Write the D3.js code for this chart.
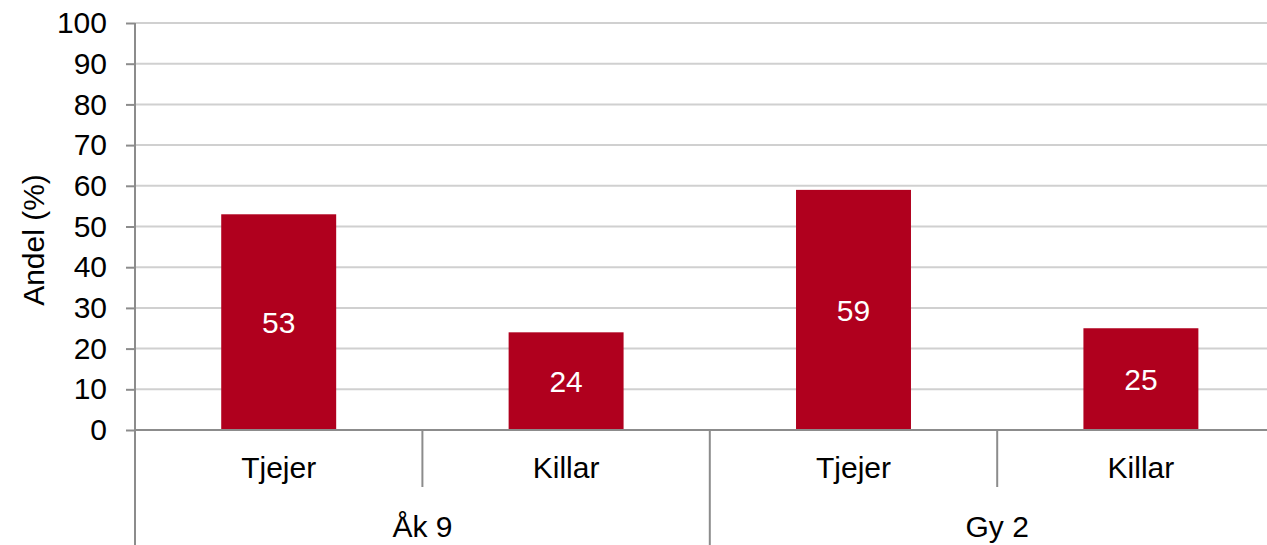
<!DOCTYPE html>
<html>
<head>
<meta charset="utf-8">
<script src="https://cdn.jsdelivr.net/npm/d3@7"></script>
<style>
  body { margin: 0; background: #fff; }
  svg { display: block; font-family: "Liberation Sans", Arial, sans-serif; }
</style>
</head>
<body>
<svg id="chart" width="1267" height="545"></svg>
<script>
const groups = ["Åk 9", "Gy 2"];
const genders = ["Tjejer", "Killar"];
const values = [53, 24, 59, 25];
const yTicks = [0, 10, 20, 30, 40, 50, 60, 70, 80, 90, 100];

const rows = values.map((v, i) => ({
  key: i,
  group: groups[Math.floor(i / 2)],
  gender: genders[i % 2],
  value: v
}));

const svg = d3.select("#chart");
const width = 1267, height = 545;
const m = { top: 23, left: 135, bottom: 115 };
const bandW = 287.4;
const y0 = height - m.bottom;
const fs = 30;

const x = d3.scaleBand()
  .domain(rows.map(d => d.key))
  .range([m.left, m.left + bandW * rows.length])
  .paddingInner(0)
  .paddingOuter(0);

const y = d3.scaleLinear().domain([0, 100]).range([y0, m.top]);

// gridlines
svg.append("g")
  .selectAll("line")
  .data(yTicks.filter(t => t > 0))
  .join("line")
  .attr("x1", m.left).attr("x2", width)
  .attr("y1", d => y(d)).attr("y2", d => y(d))
  .attr("stroke", "#d0d0d0")
  .attr("stroke-width", 2);

// bars
const barW = x.bandwidth() * 0.4;
svg.append("g")
  .selectAll("rect")
  .data(rows)
  .join("rect")
  .attr("x", d => x(d.key) + (x.bandwidth() - barW) / 2)
  .attr("y", d => y(d.value))
  .attr("width", barW)
  .attr("height", d => y0 - y(d.value))
  .attr("fill", "#b0001e");

svg.append("g")
  .selectAll("text")
  .data(rows)
  .join("text")
  .attr("x", d => x(d.key) + x.bandwidth() / 2)
  .attr("y", d => (y(d.value) + y0) / 2)
  .attr("dy", "0.36em")
  .attr("text-anchor", "middle")
  .attr("font-size", fs)
  .attr("fill", "#fff")
  .text(d => d.value);

// y axis
const yAxis = svg.append("g")
  .attr("transform", `translate(${m.left},0)`)
  .call(d3.axisLeft(y).tickValues(yTicks).tickSize(9).tickPadding(19));
yAxis.select(".domain").attr("stroke", "#8c8c8c").attr("stroke-width", 2)
  .attr("d", `M0,${y(100)}V${y0}`);
yAxis.selectAll(".tick line").attr("stroke", "#8c8c8c").attr("stroke-width", 2);
yAxis.selectAll(".tick text").attr("font-size", fs).attr("fill", "#000")
  .attr("font-family", "Liberation Sans, Arial, sans-serif");

// x axis baseline
svg.append("line")
  .attr("x1", m.left).attr("x2", width)
  .attr("y1", y0).attr("y2", y0)
  .attr("stroke", "#8c8c8c").attr("stroke-width", 2);

// left axis extension below baseline
svg.append("line")
  .attr("x1", m.left).attr("x2", m.left)
  .attr("y1", y0).attr("y2", height)
  .attr("stroke", "#8c8c8c").attr("stroke-width", 2);

// separators
svg.append("g")
  .selectAll("line")
  .data(rows.slice(1))
  .join("line")
  .attr("x1", d => x(d.key)).attr("x2", d => x(d.key))
  .attr("y1", y0)
  .attr("y2", d => d.gender === genders[0] ? height : y0 + 57)
  .attr("stroke", "#8c8c8c").attr("stroke-width", 2);

// category labels
svg.append("g")
  .selectAll("text")
  .data(rows)
  .join("text")
  .attr("x", d => x(d.key) + x.bandwidth() / 2)
  .attr("y", y0 + 37)
  .attr("dy", "0.36em")
  .attr("text-anchor", "middle")
  .attr("font-size", fs)
  .text(d => d.gender);

// group labels
svg.append("g")
  .selectAll("text")
  .data(groups)
  .join("text")
  .attr("x", (d, i) => x(i * 2) + x.bandwidth())
  .attr("y", y0 + 96)
  .attr("dy", "0.36em")
  .attr("text-anchor", "middle")
  .attr("font-size", fs)
  .text(d => d);

// y title
svg.append("text")
  .attr("transform", "translate(33,240) rotate(-90)")
  .attr("dy", "0.36em")
  .attr("text-anchor", "middle")
  .attr("font-size", fs)
  .text("Andel (%)");
</script>
</body>
</html>
